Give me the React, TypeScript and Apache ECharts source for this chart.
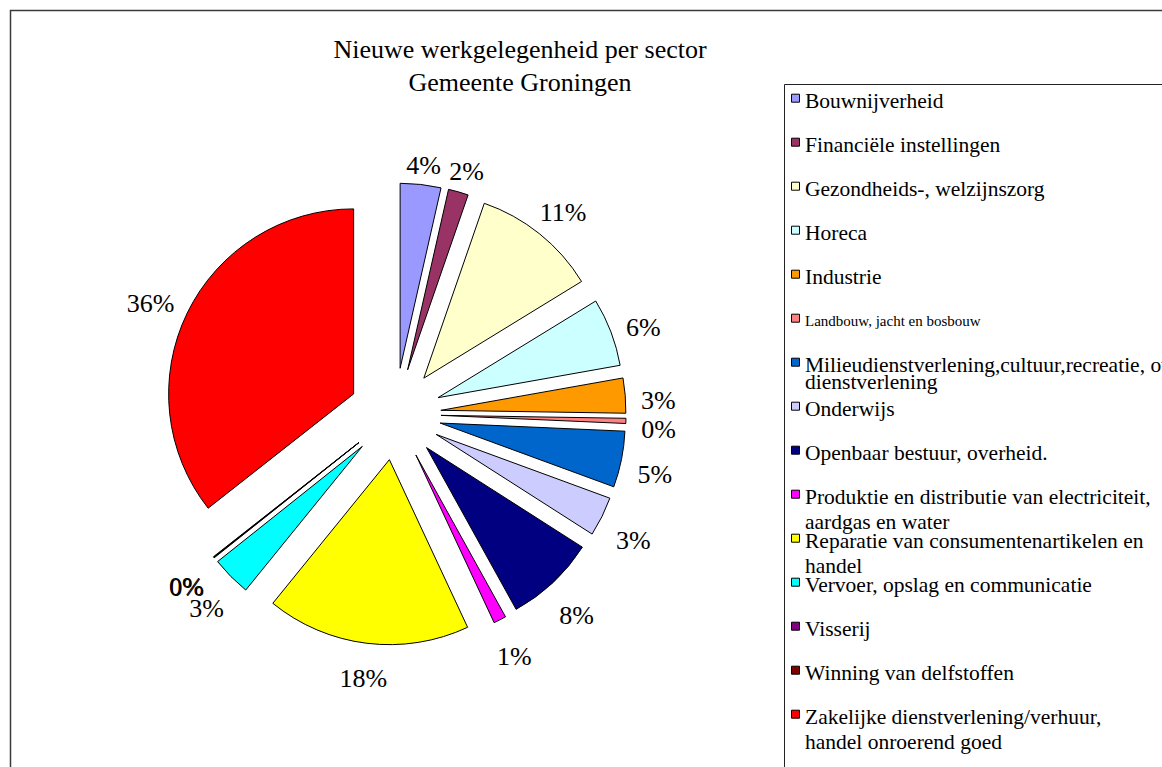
import React, { useEffect, useRef } from "react";
import * as echarts from "echarts";

// ---- data ----
const categories = [
  "Bouwnijverheid",
  "Financiële instellingen",
  "Gezondheids-, welzijnszorg",
  "Horeca",
  "Industrie",
  "Landbouw, jacht en bosbouw",
  "Milieudienstverlening,cultuur,recreatie, overige dienstverlening",
  "Onderwijs",
  "Openbaar bestuur, overheid.",
  "Produktie en distributie van electriciteit, aardgas en water",
  "Reparatie van consumentenartikelen en handel",
  "Vervoer, opslag en communicatie",
  "Visserij",
  "Winning van delfstoffen",
  "Zakelijke dienstverlening/verhuur, handel onroerend goed",
];

// share of new jobs (%)
const values = [3.55, 1.75, 10.95, 5.95, 3.05, 0.45, 4.9, 3.45, 7.9, 1.1, 17.8, 3.45, 0.05, 0.05, 35.6];

const legendLines = [
  ["Bouwnijverheid"],
  ["Financiële instellingen"],
  ["Gezondheids-, welzijnszorg"],
  ["Horeca"],
  ["Industrie"],
  ["Landbouw, jacht en bosbouw"],
  ["Milieudienstverlening,cultuur,recreatie, overige", "dienstverlening"],
  ["Onderwijs"],
  ["Openbaar bestuur, overheid."],
  ["Produktie en distributie van electriciteit,", "aardgas en water"],
  ["Reparatie van consumentenartikelen en", "handel"],
  ["Vervoer, opslag en communicatie"],
  ["Visserij"],
  ["Winning van delfstoffen"],
  ["Zakelijke dienstverlening/verhuur,", "handel onroerend goed"],
];

const titleText = "Nieuwe werkgelegenheid per sector\nGemeente Groningen";

// ---- styles ----
const colors = [
  "#9999FF", "#993366", "#FFFFCC", "#CCFFFF", "#FF9900",
  "#FF8080", "#0066CC", "#CCCCFF", "#000080", "#FF00FF",
  "#FFFF00", "#00FFFF", "#800080", "#800000", "#FF0000",
];

const FONT = "Liberation Serif";
const CX = 395;
const CY = 414;
const R = 185;
const OFFSET = 46;
const LABEL_GAP = 15;
const LABEL_DROP = 8;

export default function App() {
  const ref = useRef<HTMLDivElement>(null);

  useEffect(() => {
    if (!ref.current) return;
    const chart = echarts.init(ref.current, undefined, { renderer: "svg" });

    const total = values.reduce((a, b) => a + b, 0);
    const mids: number[] = [];
    let cum = 0;
    values.forEach((v) => {
      mids.push(((cum + v / 2) / total) * Math.PI * 2);
      cum += v;
    });

    const legendGraphics: any[] = [];
    legendLines.forEach((lines, i) => {
      const yc = 98.7 + 44 * i;
      const size = i === 5 ? 15 : 21.5;
      const lh = i === 6 ? 17 : 25;
      legendGraphics.push({
        type: "rect",
        shape: { x: 791.5, y: yc - 4.5, width: 8, height: 8 },
        style: { fill: colors[i], stroke: "#000", lineWidth: 1 },
        silent: true,
      });
      legendGraphics.push({
        type: "text",
        x: 805,
        y: yc + 2.5 - lh / 2,
        style: {
          text: lines.join("\n"),
          font: `${size}px ${FONT}`,
          fontFamily: FONT,
          fontSize: size,
          lineHeight: lh,
          fill: "#000",
          align: "left",
          verticalAlign: "top",
        },
        silent: true,
      });
    });

    const pieData = categories.map((name, i) => ({
      name,
      value: values[i],
      selected: true,
      itemStyle: { color: colors[i] },
    }));

    chart.setOption({
      animation: false,
      backgroundColor: "#fff",
      title: {
        text: titleText,
        left: 515,
        top: 28,
        textAlign: "center",
        textStyle: {
          fontFamily: FONT,
          fontSize: 26,
          fontWeight: "normal",
          color: "#000",
          lineHeight: 33,
        },
      },
      graphic: [
        {
          type: "rect",
          shape: { x: 10.5, y: 10.5, width: 1300, height: 900 },
          style: { fill: "none", stroke: "#3a3a3a", lineWidth: 1.5 },
          silent: true,
          z: 0,
        },
        {
          type: "rect",
          shape: { x: 784.5, y: 84.5, width: 500, height: 800 },
          style: { fill: "none", stroke: "#222", lineWidth: 1 },
          silent: true,
        },
        ...legendGraphics,
      ],
      series: [
        {
          type: "pie",
          center: [CX, CY],
          radius: R,
          startAngle: 90,
          clockwise: true,
          selectedMode: "multiple",
          selectedOffset: OFFSET,
          avoidLabelOverlap: false,
          data: pieData,
          itemStyle: { borderColor: "#000", borderWidth: 1 },
          select: { itemStyle: { borderColor: "#000", borderWidth: 1 } },
          emphasis: { disabled: true },
          label: { show: false },
          labelLine: { show: false },
        },
        {
          // percentage labels, laid out around the exploded pie
          type: "pie",
          center: [CX, CY],
          radius: R + OFFSET,
          startAngle: 90,
          clockwise: true,
          silent: true,
          selectedMode: false,
          avoidLabelOverlap: false,
          data: categories.map((name, i) => ({ name, value: values[i] })),
          itemStyle: { color: "rgba(0,0,0,0)", borderWidth: 0 },
          emphasis: { disabled: true },
          label: {
            show: true,
            position: "outside",
            formatter: (p: any) => Math.round(p.percent) + "%",
            fontFamily: FONT,
            fontSize: 26,
            color: "#000",
          },
          labelLine: { show: false },
          labelLayout: (p: any) => {
            const a = mids[p.dataIndex];
            const dx = Math.sin(a);
            const dy = -Math.cos(a);
            const hw = p.labelRect.width / 2;
            const ext = Math.abs(dx) * hw + Math.abs(dy) * 10;
            const d = R + OFFSET + LABEL_GAP + ext;
            return {
              x: CX + dx * d,
              y: CY + dy * d + LABEL_DROP,
              align: "center",
              verticalAlign: "middle",
            };
          },
        },
      ],
    });

    return () => chart.dispose();
  }, []);

  return (
    <div
      ref={ref}
      style={{ position: "absolute", left: 0, top: 0, width: 1162, height: 767, background: "#fff" }}
    />
  );
}
